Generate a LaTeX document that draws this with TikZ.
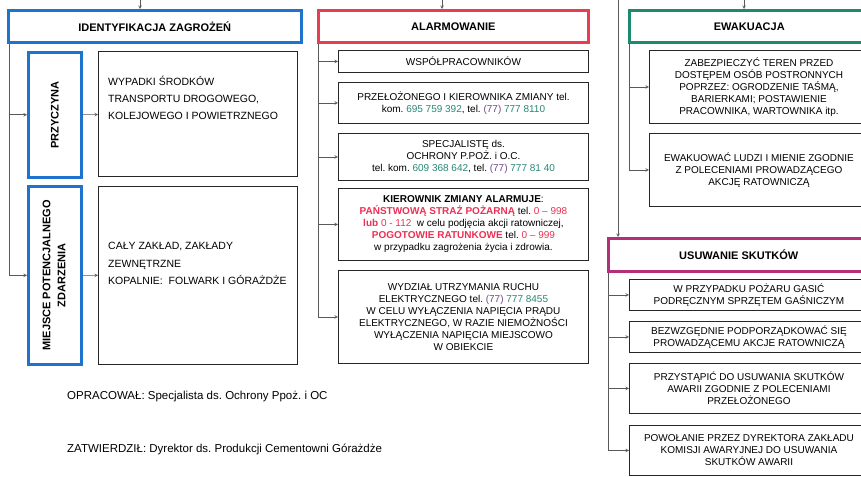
\documentclass[tikz,border=0pt]{standalone}
\usepackage{fontspec}
\setmainfont{Liberation Sans}
\frenchspacing
\usetikzlibrary{arrows}

\definecolor{zblue}{RGB}{30,115,205}
\definecolor{zred}{RGB}{232,62,82}
\definecolor{zgreen}{RGB}{28,138,112}
\definecolor{zmagenta}{RGB}{178,48,122}
\definecolor{zalert}{RGB}{236,48,84}
\definecolor{zteal}{RGB}{40,135,120}
\definecolor{zpurp}{RGB}{115,70,140}

\begin{document}
\begin{tikzpicture}[
            x = 1pt, y = -1pt, % pixel-like units, y downwards
            > = stealth, % arrow head style
            conn/.style = {draw = black!65, line width = 0.6pt},
            hdr/.style = {draw = #1, line width = 2.6pt, anchor = north west,
                inner sep = 0pt, font = \fontsize{11}{13}\selectfont\bfseries},
            side/.style = {draw = zblue, line width = 2.6pt, anchor = north west,
                inner sep = 0pt, minimum width = 53pt,
                font = \fontsize{11}{15}\selectfont\bfseries},
            box/.style = {draw = black!85, line width = 0.9pt, anchor = north west,
                inner sep = 1pt, align = center, font = \fontsize{10}{12}\selectfont},
            plain/.style = {anchor = north west, align = left, inner sep = 0pt}
        ]

        \fill[white] (0,0) rectangle (861,476);
        \useasboundingbox (0,0) rectangle (861,476);
        \clip (0,0) rectangle (861,476);

        % headers
	\node[hdr=zblue, minimum width=293pt, minimum height=32pt] (ident) at (7,9) {IDENTYFIKACJA ZAGROŻEŃ};
	\node[hdr=zred, minimum width=270pt, minimum height=32pt] (alarm) at (317,9) {ALARMOWANIE};
	\node[hdr=zgreen, minimum width=240pt, minimum height=32pt] (ewak) at (628,9) {EWAKUACJA};
	\node[hdr=zmagenta, minimum width=261pt, minimum height=33pt] (usuw) at (607,237) {USUWANIE SKUTKÓW};

        % identyfikacja
	\node[side, minimum height=125pt] (przyczyna) at (27,51) {\rotatebox{90}{PRZYCZYNA}};
	\node[side, minimum height=178pt] (miejsce) at (27,185)
	    {\rotatebox{90}{\begin{tabular}{@{}c@{}}MIEJSCE POTENCJALNEGO\\ZDARZENIA\end{tabular}}};
	\node[box, minimum width=199pt, minimum height=125pt] (wypadki) at (98,51) {};
	\node[box, minimum width=199pt, minimum height=178pt] (zaklad) at (98,186) {};
	\node[plain, font=\fontsize{10.5}{17}\selectfont] (wypadkiTxt) at (108,75.5)
	    {WYPADKI ŚRODKÓW\\TRANSPORTU DROGOWEGO,\\KOLEJOWEGO I POWIETRZNEGO};
	\node[plain, font=\fontsize{10.5}{17.5}\selectfont] (zakladTxt) at (108,242)
	    {CAŁY ZAKŁAD, ZAKŁADY\\ZEWNĘTRZNE\\KOPALNIE:\ \ FOLWARK I GÓRAŻDŻE};

        % alarmowanie
	\node[box, minimum width=250pt, minimum height=22pt] (wspol) at (338,50) {WSPÓŁPRACOWNIKÓW};
	\node[box, minimum width=250pt, minimum height=41pt] (przel) at (338,82)
	    {PRZEŁOŻONEGO I KIEROWNIKA ZMIANY tel.\\
	     kom. \textcolor{zteal}{695 759 392}, tel. \textcolor{zpurp}{(77)} \textcolor{zteal}{777 8110}};
	\node[box, minimum width=250pt, minimum height=47pt] (spec) at (338,133)
	    {SPECJALISTĘ ds.\\OCHRONY P.POŻ. i O.C.\\
	     tel. kom. \textcolor{zteal}{609 368 642}, tel. \textcolor{zpurp}{(77)} \textcolor{zteal}{777 81 40}};
	\node[box, minimum width=250pt, minimum height=72pt] (kier) at (338,188)
	    {\textbf{KIEROWNIK ZMIANY ALARMUJE}:\\
	     \textcolor{zalert}{\textbf{PAŃSTWOWĄ STRAŻ POŻARNĄ}} tel. \textcolor{zalert}{0 – 998}\\
	     \textcolor{zalert}{\textbf{lub} 0 - 112}\ \ w celu podjęcia akcji ratowniczej,\\
	     \textcolor{zalert}{\textbf{POGOTOWIE RATUNKOWE}} tel. \textcolor{zalert}{0 – 999}\\
	     w przypadku zagrożenia życia i zdrowia.};
	\node[box, minimum width=250pt, minimum height=93pt] (wydz) at (338,270)
	    {WYDZIAŁ UTRZYMANIA RUCHU\\
	     ELEKTRYCZNEGO tel. \textcolor{zpurp}{(77)} \textcolor{zteal}{777 8455}\\
	     W CELU WYŁĄCZENIA NAPIĘCIA PRĄDU\\ELEKTRYCZNEGO, W RAZIE NIEMOŻNOŚCI\\
	     WYŁĄCZENIA NAPIĘCIA MIEJSCOWO\\W OBIEKCIE};

        % ewakuacja
	\node[box, minimum width=219pt, minimum height=73pt] (zabezp) at (649,50)
	    {ZABEZPIECZYĆ TEREN PRZED\\DOSTĘPEM OSÓB POSTRONNYCH\\POPRZEZ: OGRODZENIE TAŚMĄ,\\
	     BARIERKAMI; POSTAWIENIE\\PRACOWNIKA, WARTOWNIKA itp.};
	\node[box, minimum width=219pt, minimum height=73pt] (ewakuow) at (649,133)
	    {EWAKUOWAĆ LUDZI I MIENIE ZGODNIE\\Z POLECENIAMI PROWADZĄCEGO\\AKCJĘ RATOWNICZĄ};

        % usuwanie skutkow
	\node[box, minimum width=239pt, minimum height=31pt] (gasic) at (629,279)
	    {W PRZYPADKU POŻARU GASIĆ\\PODRĘCZNYM SPRZĘTEM GAŚNICZYM};
	\node[box, minimum width=239pt, minimum height=31pt] (podporz) at (629,321)
	    {BEZWZGĘDNIE PODPORZĄDKOWAĆ SIĘ\\PROWADZĄCEMU AKCJE RATOWNICZĄ};
	\node[box, minimum width=239pt, minimum height=50pt] (przyst) at (629,363)
	    {PRZYSTĄPIĆ DO USUWANIA SKUTKÓW\\AWARII ZGODNIE Z POLECENIAMI\\PRZEŁOŻONEGO};
	\node[box, minimum width=239pt, minimum height=50pt] (powol) at (629,425)
	    {POWOŁANIE PRZEZ DYREKTORA ZAKŁADU\\KOMISJI AWARYJNEJ DO USUWANIA\\SKUTKÓW AWARII};

        % footer
	\node[anchor=base west, inner sep=0pt, font=\fontsize{11.5}{14}\selectfont] (opracowal) at (67,399)
	    {OPRACOWAŁ: Specjalista ds. Ochrony Ppoż. i OC};
	\node[anchor=base west, inner sep=0pt, font=\fontsize{11.5}{14}\selectfont] (zatwierdzil) at (67,452)
	    {ZATWIERDZIŁ: Dyrektor ds. Produkcji Cementowni Górażdże};

        % incoming arrows from above
	\coordinate (inI) at (140,0);
	\coordinate (inA) at (442,0);
	\coordinate (inE) at (744,0);
	\coordinate (inU) at (618,0);
	\draw[conn,->] (inI) -- (inI |- ident.north);
	\draw[conn,->] (inA) -- (inA |- alarm.north);
	\draw[conn,->] (inE) -- (inE |- ewak.north);
	\draw[conn,->] (inU) -- (inU |- usuw.north);

        % branch lines
	\coordinate (xI) at (9,0);
	\coordinate (xA) at (318,0);
	\coordinate (xE) at (629,0);
	\coordinate (xU) at (608,0);

	\draw[conn] (ident.south -| xI) -- (xI |- miejsce.west);
	\draw[conn,->] (xI |- przyczyna.west) -- (przyczyna.west);
	\draw[conn,->] (xI |- miejsce.west) -- (miejsce.west);
	\draw[conn,->] (przyczyna) -- (wypadki);
	\draw[conn,->] (miejsce) -- (zaklad);

	\draw[conn] (alarm.south -| xA) -- (xA |- wydz.west);
	\draw[conn,->] (xA |- wspol.west) -- (wspol.west);
	\draw[conn,->] (xA |- przel.west) -- (przel.west);
	\draw[conn,->] (xA |- spec.west) -- (spec.west);
	\draw[conn,->] (xA |- kier.west) -- (kier.west);
	\draw[conn,->] (xA |- wydz.west) -- (wydz.west);

	\draw[conn] (ewak.south -| xE) -- (xE |- ewakuow.west);
	\draw[conn,->] (xE |- zabezp.west) -- (zabezp.west);
	\draw[conn,->] (xE |- ewakuow.west) -- (ewakuow.west);

	\draw[conn] (usuw.south -| xU) -- (xU |- powol.west);
	\draw[conn,->] (xU |- gasic.west) -- (gasic.west);
	\draw[conn,->] (xU |- podporz.west) -- (podporz.west);
	\draw[conn,->] (xU |- przyst.west) -- (przyst.west);
	\draw[conn,->] (xU |- powol.west) -- (powol.west);

    \end{tikzpicture}
\end{document}
